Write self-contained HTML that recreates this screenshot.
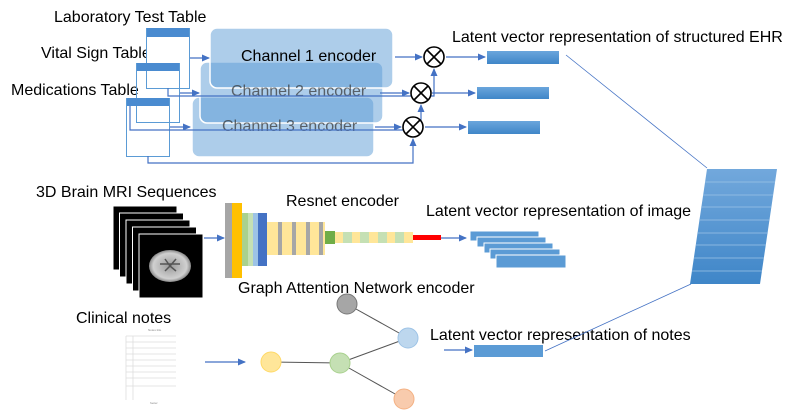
<!DOCTYPE html>
<html><head><meta charset="utf-8"><style>
html,body{margin:0;padding:0;background:#fff;}
svg{display:block;font-family:"Liberation Sans",sans-serif;}
</style></head><body>
<svg width="789" height="420" viewBox="0 0 789 420" xmlns="http://www.w3.org/2000/svg">
<defs>
<marker id="ah" markerWidth="8" markerHeight="8" refX="7" refY="4" orient="auto" markerUnits="userSpaceOnUse"><path d="M0,0.5 L8,4 L0,7.5 z" fill="#4472c4"/></marker>
<linearGradient id="bar" x1="0" y1="0" x2="0" y2="1"><stop offset="0" stop-color="#6aa5dc"/><stop offset="1" stop-color="#3f86c8"/></linearGradient>
<linearGradient id="par" x1="0" y1="0" x2="0" y2="1"><stop offset="0" stop-color="#72a8dc"/><stop offset="1" stop-color="#3f86c8"/></linearGradient>
<radialGradient id="brain" cx="0.5" cy="0.5" r="0.5"><stop offset="0" stop-color="#9a9a9a"/><stop offset="0.8" stop-color="#d0d0d0"/><stop offset="1" stop-color="#888"/></radialGradient>
</defs>
<g font-size="16" fill="#000">
<text x="54" y="22">Laboratory Test Table</text>
<text x="41" y="58">Vital Sign Table</text>
<text x="11" y="95">Medications Table</text>
</g>
<rect x="192" y="97" width="182" height="60" rx="7" fill="rgba(91,155,213,0.5)" stroke="#fff" stroke-width="1.5"/>
<rect x="200" y="62" width="183" height="61" rx="7" fill="rgba(91,155,213,0.5)" stroke="#fff" stroke-width="1.5"/>
<rect x="210" y="28" width="183" height="60" rx="7" fill="rgba(91,155,213,0.5)" stroke="#fff" stroke-width="1.5"/>
<g font-size="16" fill="#000">
<text x="241" y="61">Channel 1 encoder</text>
<text x="231" y="96" fill="#333" opacity="0.7">Channel 2 encoder</text>
<text x="222" y="131" fill="#333" opacity="0.7">Channel 3 encoder</text>
</g>
<g stroke="#5b9bd5" fill="#fff" stroke-width="1">
<rect x="146.5" y="28.5" width="43" height="60"/>
<rect x="136.5" y="63.5" width="43" height="59" fill="none"/>
<rect x="126.5" y="98.5" width="43" height="58" fill="none"/>
</g>
<rect x="147" y="28" width="42" height="9" fill="#4a8bd0"/>
<rect x="137" y="63" width="42" height="8" fill="#4a8bd0"/>
<rect x="127" y="98" width="42" height="8" fill="#4a8bd0"/>
<g stroke="#4472c4" stroke-width="1.2" fill="none">
<line x1="190" y1="58" x2="209" y2="58" marker-end="url(#ah)"/>
<line x1="180" y1="93" x2="199" y2="93" marker-end="url(#ah)"/>
<line x1="170" y1="127" x2="190" y2="127" marker-end="url(#ah)"/>
<line x1="395" y1="57" x2="422" y2="57" marker-end="url(#ah)"/>
<line x1="380" y1="93" x2="409" y2="93" marker-end="url(#ah)"/>
<line x1="375" y1="127" x2="401" y2="127" marker-end="url(#ah)"/>
<polyline points="168,88 168,96 434,96 434,69" marker-end="url(#ah)"/>
<polyline points="130,106 130,130 380,130 421,130 421,105" marker-end="url(#ah)"/>
<polyline points="148,156 148,163 413,163 413,139" marker-end="url(#ah)"/>
<line x1="446" y1="57" x2="485" y2="57" marker-end="url(#ah)"/>
<line x1="432" y1="93" x2="475" y2="93" marker-end="url(#ah)"/>
<line x1="425" y1="127" x2="466" y2="127" marker-end="url(#ah)"/>
<line x1="204" y1="238" x2="224" y2="238" marker-end="url(#ah)"/>
<line x1="441" y1="238" x2="466" y2="238" marker-end="url(#ah)"/>
<line x1="205" y1="362" x2="245" y2="362" marker-end="url(#ah)"/>
<line x1="444" y1="350" x2="472" y2="350" marker-end="url(#ah)"/>
</g>
<g stroke="#000" stroke-width="1.6" fill="#fff">
<circle cx="434" cy="57" r="10"/><line x1="427" y1="50" x2="441" y2="64"/><line x1="441" y1="50" x2="427" y2="64"/>
<circle cx="421" cy="93" r="10"/><line x1="414" y1="86" x2="428" y2="100"/><line x1="428" y1="86" x2="414" y2="100"/>
<circle cx="413" cy="127" r="10"/><line x1="406" y1="120" x2="420" y2="134"/><line x1="420" y1="120" x2="406" y2="134"/>
</g>
<rect x="487" y="51" width="72" height="13" fill="url(#bar)"/>
<rect x="477" y="87" width="72" height="12" fill="url(#bar)"/>
<rect x="468" y="121" width="72" height="13" fill="url(#bar)"/>
<text x="452" y="42" font-size="16">Latent vector representation of structured EHR</text>
<text x="36" y="197" font-size="16">3D Brain MRI Sequences</text>
<g stroke="#fff" stroke-width="1">
<rect x="113" y="206" width="64" height="64" fill="#000"/>
<rect x="119.5" y="213" width="64" height="64" fill="#000"/>
<rect x="126" y="220" width="64" height="64" fill="#000"/>
<rect x="132.5" y="227" width="64" height="64" fill="#000"/>
<rect x="139" y="234" width="64" height="64" fill="#000"/>
</g>
<ellipse cx="170" cy="266" rx="21" ry="16" fill="url(#brain)"/>
<path d="M160,264 L180,264 M165,259 L170,266 L176,259 M165,271 L170,266 L176,271" stroke="#555" stroke-width="1.5" fill="none"/>
<text x="286" y="206" font-size="16">Resnet encoder</text>
<rect x="225" y="203" width="7" height="75" fill="#a6a6a6"/>
<rect x="232" y="203" width="10" height="75" fill="#ffc000"/>
<rect x="242" y="213" width="6" height="53" fill="#a9d18e"/>
<rect x="248" y="213" width="5" height="53" fill="#c5e0b4"/>
<rect x="253" y="213" width="5" height="53" fill="#9dc3e6"/>
<rect x="258" y="213" width="9" height="53" fill="#4472c4"/>
<rect x="267" y="222" width="58" height="33" fill="#ffe699"/>
<g fill="#a6a6a6"><rect x="278" y="222" width="4" height="33"/><rect x="292" y="222" width="4" height="33"/><rect x="306" y="222" width="4" height="33"/><rect x="319" y="222" width="4" height="33"/></g>
<rect x="325" y="231" width="10" height="13" fill="#70ad47"/>
<rect x="335" y="232" width="78" height="11" fill="#ffe699"/>
<g fill="#c5e0b4"><rect x="343" y="232" width="9" height="11"/><rect x="360" y="232" width="9" height="11"/><rect x="378" y="232" width="9" height="11"/><rect x="395" y="232" width="9" height="11"/></g>
<rect x="413" y="235" width="28" height="5" fill="#ff0000"/>
<text x="426" y="216" font-size="16">Latent vector representation of image</text>
<g fill="#5b9bd5" stroke="#fff" stroke-width="1">
<rect x="470" y="231" width="69" height="10"/>
<rect x="477" y="237" width="69" height="10"/>
<rect x="484" y="243" width="69" height="10"/>
<rect x="490" y="249" width="70" height="10"/>
<rect x="496" y="255" width="70" height="13"/>
</g>
<text x="238" y="293" font-size="16">Graph Attention Network encoder</text>
<g stroke="#555" stroke-width="1"><line x1="347" y1="304" x2="408" y2="338"/><line x1="271" y1="362" x2="340" y2="363"/><line x1="340" y1="363" x2="408" y2="338"/><line x1="340" y1="363" x2="404" y2="399"/></g>
<circle cx="347" cy="304" r="10" fill="#a6a6a6" stroke="#777"/>
<circle cx="408" cy="338" r="10" fill="#bdd7ee" stroke="#9dc3e6"/>
<circle cx="271" cy="362" r="10" fill="#ffe699" stroke="#ffd966"/>
<circle cx="340" cy="363" r="10" fill="#c5e0b4" stroke="#a9d18e"/>
<circle cx="404" cy="399" r="10" fill="#f8cbad" stroke="#f4b183"/>
<text x="76" y="323" font-size="16">Clinical notes</text>
<g stroke="#ddd" stroke-width="0.8">
<line x1="126" y1="336" x2="176" y2="336"/><line x1="126" y1="342" x2="176" y2="342"/><line x1="126" y1="348" x2="176" y2="348"/><line x1="126" y1="354" x2="176" y2="354"/><line x1="126" y1="360" x2="176" y2="360"/><line x1="126" y1="366" x2="176" y2="366"/><line x1="126" y1="372" x2="176" y2="372"/><line x1="126" y1="378" x2="176" y2="378"/><line x1="126" y1="386" x2="176" y2="386"/>
<line x1="126" y1="336" x2="126" y2="400"/><line x1="133" y1="336" x2="133" y2="400"/>
</g>
<text x="148" y="331" font-size="3" fill="#888">Notes title</text>
<text x="150" y="404" font-size="3" fill="#888">footer</text>
<text x="430" y="340" font-size="16">Latent vector representation of notes</text>
<rect x="474" y="345" width="69" height="12" fill="#5b9bd5"/>
<g stroke="#4472c4" stroke-width="0.8"><line x1="566" y1="55" x2="707" y2="168"/><line x1="545" y1="351" x2="691" y2="284"/></g>
<path d="M707,169 L777,169 L760,284 L690,284 Z" fill="url(#par)"/>
<g stroke="#9dc3e6" stroke-width="0.8">
<line x1="705" y1="182" x2="775" y2="182"/><line x1="703" y1="195" x2="773" y2="195"/><line x1="701" y1="207" x2="771" y2="207"/><line x1="699" y1="220" x2="769" y2="220"/><line x1="698" y1="233" x2="768" y2="233"/><line x1="696" y1="245" x2="766" y2="245"/><line x1="694" y1="258" x2="764" y2="258"/><line x1="692" y1="271" x2="762" y2="271"/>
</g>
</svg>
</body></html>
